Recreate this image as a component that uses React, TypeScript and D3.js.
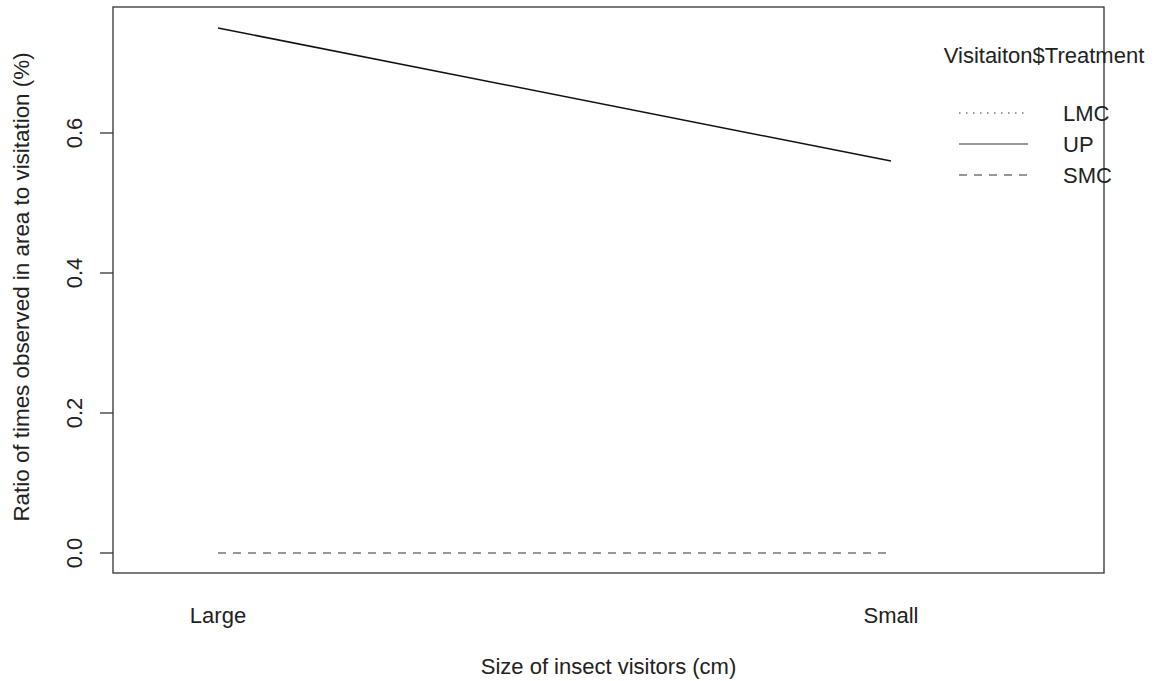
import { useRef, useEffect } from "react";
import * as d3 from "d3";

const sizes = ["Large", "Small"];
const treatments = ["LMC", "UP", "SMC"];
// LMC has no visible line in the plot
const lmc = [NaN, NaN];
const up = [0.75, 0.56];
const smc = [0, 0];
const yTicks = [0, 0.2, 0.4, 0.6];

export default function App() {
  const svgRef = useRef<SVGSVGElement>(null);

  useEffect(() => {
    const w = 1155;
    const h = 681;
    const svg = d3.select(svgRef.current).attr("width", w).attr("height", h);
    svg.selectAll("*").remove();
    const font = "Liberation Sans, Arial, sans-serif";
    const fs = 22;

    // plot region
    const left = 113, right = 1104, top = 7, bottom = 573;
    const x = d3.scalePoint().domain(sizes).range([218, 891]);
    const y = d3.scaleLinear().domain([0, 0.75]).range([553, 28]);

    const series = [
      { name: "LMC", vals: lmc, dash: "1.5,5", color: "#777" },
      { name: "SMC", vals: smc, dash: "8,7", color: "#777" },
      { name: "UP", vals: up, dash: null, color: "#111" },
    ];

    const line = d3
      .line<number>()
      .defined((d) => !isNaN(d))
      .x((d, i) => x(sizes[i]) as number)
      .y((d) => y(d));

    series.forEach((s) => {
      svg
        .append("path")
        .attr("d", line(s.vals))
        .attr("fill", "none")
        .attr("stroke", s.color)
        .attr("stroke-width", 1.5)
        .attr("stroke-dasharray", s.dash);
    });

    // box
    svg
      .append("rect")
      .attr("x", left)
      .attr("y", top)
      .attr("width", right - left)
      .attr("height", bottom - top)
      .attr("fill", "none")
      .attr("stroke", "#333")
      .attr("stroke-width", 1.3);

    // y axis
    const yAxis = svg.append("g");
    yTicks.forEach((t) => {
      yAxis
        .append("line")
        .attr("x1", left - 13)
        .attr("x2", left)
        .attr("y1", y(t))
        .attr("y2", y(t))
        .attr("stroke", "#333")
        .attr("stroke-width", 1.3);
      yAxis
        .append("text")
        .attr("transform", `translate(81.5, ${y(t)}) rotate(-90)`)
        .attr("text-anchor", "middle")
        .attr("font-family", font)
        .attr("font-size", fs)
        .attr("fill", "#222")
        .text(d3.format(".1f")(t));
    });

    svg
      .append("text")
      .attr("transform", `translate(29, 287) rotate(-90)`)
      .attr("text-anchor", "middle")
      .attr("font-family", font)
      .attr("font-size", 22.4)
      .attr("fill", "#222")
      .text("Ratio of times observed in area to visitation (%)");

    // x labels
    sizes.forEach((s) => {
      svg
        .append("text")
        .attr("x", x(s) as number)
        .attr("y", 623)
        .attr("text-anchor", "middle")
        .attr("font-family", font)
        .attr("font-size", fs)
        .attr("fill", "#222")
        .text(s);
    });

    svg
      .append("text")
      .attr("x", (left + right) / 2)
      .attr("y", 674)
      .attr("text-anchor", "middle")
      .attr("font-family", font)
      .attr("font-size", fs)
      .attr("fill", "#222")
      .text("Size of insect visitors (cm)");

    // legend
    svg
      .append("text")
      .attr("x", 1044)
      .attr("y", 63)
      .attr("text-anchor", "middle")
      .attr("font-family", font)
      .attr("font-size", fs)
      .attr("fill", "#222")
      .text("Visitaiton$Treatment");

    const legendDash: Record<string, string | null> = { LMC: "1.5,5.5", UP: null, SMC: "8,7" };
    const ly = d3.scalePoint().domain(treatments).range([113, 175]);
    treatments.forEach((t) => {
      svg
        .append("line")
        .attr("x1", 959)
        .attr("x2", 1028)
        .attr("y1", ly(t) as number)
        .attr("y2", ly(t) as number)
        .attr("stroke", "#777")
        .attr("stroke-width", 1.5)
        .attr("stroke-dasharray", legendDash[t]);
      svg
        .append("text")
        .attr("x", 1063)
        .attr("y", (ly(t) as number) + 8)
        .attr("font-family", font)
        .attr("font-size", fs)
        .attr("fill", "#222")
        .text(t);
    });
  }, []);

  return (
    <div style={{ position: "absolute", left: 0, top: 0 }}>
      <svg ref={svgRef}></svg>
    </div>
  );
}
